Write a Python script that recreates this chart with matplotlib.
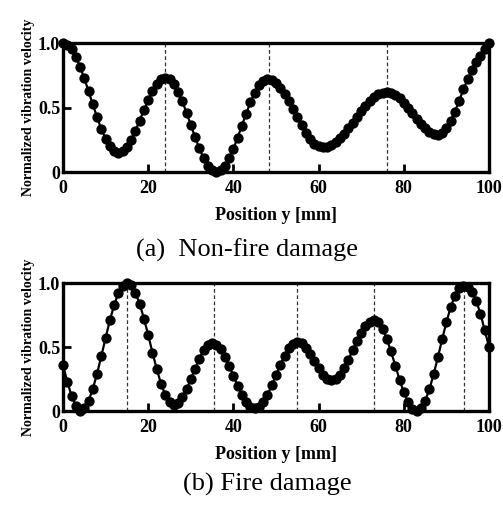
import matplotlib
matplotlib.use("Agg")
import matplotlib.pyplot as plt
import numpy as np

plt.rcParams['font.family'] = ['Liberation Serif', 'DejaVu Serif']

position_mm = list(range(0, 101))

velocity_nonfire = [
    1.00, 0.988, 0.951, 0.893, 0.816, 0.726, 0.626, 0.524, 0.424, 0.334,
    0.257, 0.199, 0.162, 0.150, 0.162, 0.196, 0.250, 0.320, 0.399, 0.481,
    0.560, 0.630, 0.684, 0.718, 0.730, 0.718, 0.681, 0.623, 0.548, 0.460,
    0.365, 0.270, 0.183, 0.107, 0.049, 0.012, 0.000, 0.012, 0.048, 0.105,
    0.180, 0.267, 0.360, 0.453, 0.540, 0.615, 0.672, 0.708, 0.720, 0.712,
    0.690, 0.653, 0.606, 0.549, 0.487, 0.423, 0.361, 0.305, 0.257, 0.220,
    0.198, 0.190, 0.195, 0.209, 0.231, 0.261, 0.298, 0.339, 0.383, 0.428,
    0.471, 0.513, 0.549, 0.579, 0.601, 0.615, 0.620, 0.614, 0.598, 0.572,
    0.538, 0.498, 0.455, 0.412, 0.373, 0.338, 0.312, 0.296, 0.290, 0.302,
    0.338, 0.394, 0.468, 0.553, 0.640, 0.720, 0.790, 0.850, 0.900, 0.950,
    1.000,
]

velocity_fire = [
    0.36, 0.23, 0.12, 0.04, 0.00, 0.020, 0.079, 0.173, 0.292, 0.429,
    0.571, 0.708, 0.827, 0.921, 0.980, 1.000, 0.981, 0.925, 0.836, 0.722,
    0.593, 0.457, 0.328, 0.214, 0.125, 0.069, 0.050, 0.065, 0.106, 0.170,
    0.248, 0.332, 0.410, 0.474, 0.516, 0.530, 0.518, 0.481, 0.425, 0.354,
    0.275, 0.196, 0.125, 0.069, 0.033, 0.020, 0.033, 0.070, 0.127, 0.200,
    0.280, 0.360, 0.433, 0.490, 0.527, 0.540, 0.529, 0.496, 0.447, 0.390,
    0.333, 0.284, 0.251, 0.240, 0.252, 0.285, 0.337, 0.402, 0.475, 0.548,
    0.613, 0.665, 0.699, 0.710, 0.693, 0.642, 0.564, 0.465, 0.355, 0.245,
    0.146, 0.068, 0.017, 0.000, 0.020, 0.078, 0.169, 0.286, 0.420, 0.560,
    0.694, 0.811, 0.902, 0.960, 0.980, 0.970, 0.930, 0.860, 0.760, 0.630,
    0.500,
]

peaks_nonfire = [24, 48.3, 76]
peaks_fire = [15, 35.4, 55, 73, 94.1]

x_ticks = [0, 20, 40, 60, 80, 100]
y_ticks = [0, 0.5, 1.0]
y_tick_labels = ["0", "0.5", "1.0"]

captions = ["(a)  Non-fire damage", "(b) Fire damage"]

fig = plt.figure(figsize=(5.03, 5.05), dpi=100)

W, H = 503, 505
boxes = [(63, 43, 489, 172), (63, 283, 489, 411)]
caption_y = [250, 484]
caption_x = [247, 267]

datasets = [(velocity_nonfire, peaks_nonfire), (velocity_fire, peaks_fire)]

for i, ((vals, peaks), (l, t, r, b)) in enumerate(zip(datasets, boxes)):
    ax = fig.add_axes([l / W, 1 - b / H, (r - l) / W, (b - t) / H])
    for p in peaks:
        ax.axvline(p, color='#333333', linestyle=(0, (3, 2)), linewidth=0.9, zorder=1)
    ax.plot(position_mm, vals, color='black', linewidth=1.6, marker='o',
            markersize=6.4, clip_on=False, zorder=3)
    ax.set_xlim(0, 100)
    ax.set_ylim(0, 1.0)
    ax.set_xticks(x_ticks)
    ax.set_yticks(y_ticks)
    ax.set_yticklabels(y_tick_labels)
    ax.tick_params(axis='x', direction='in', length=6, width=2, top=False,
                   labelsize=13, pad=6)
    ax.tick_params(axis='y', direction='in', length=6, width=2, right=False,
                   labelsize=13, pad=2)
    for lab in ax.get_xticklabels() + ax.get_yticklabels():
        lab.set_fontweight('bold')
    for s in ax.spines.values():
        s.set_linewidth(2.4)
    ax.set_xlabel("Position y [mm]", fontsize=13, fontweight='bold', labelpad=7)
    ax.set_ylabel("Normalized vibration velocity", fontsize=10, fontweight='bold',
                  labelpad=2)
    fig.text(caption_x[i] / W, 1 - caption_y[i] / H, captions[i], fontsize=19,
             ha='center', va='center')

fig.savefig("out.png", dpi=100)
